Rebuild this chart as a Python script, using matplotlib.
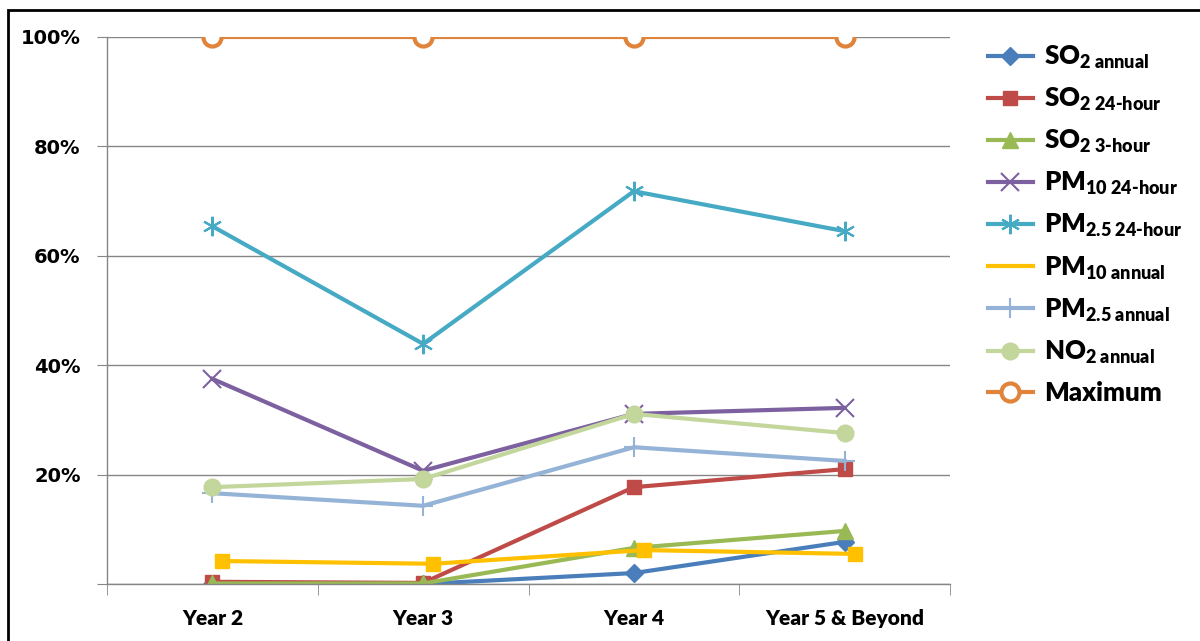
import matplotlib
matplotlib.use("Agg")
import matplotlib.pyplot as plt
import matplotlib.transforms as mtransforms
from matplotlib.patches import Rectangle
from matplotlib.ticker import FuncFormatter

# data (fractions of the limit)
years = ["Year 2", "Year 3", "Year 4", "Year 5 & Beyond"]
so2_annual = [0.000, 0.000, 0.020, 0.077]
so2_24h = [0.004, 0.002, 0.177, 0.210]
so2_3h = [0.001, 0.001, 0.066, 0.097]
pm10_24h = [0.375, 0.207, 0.311, 0.322]
pm25_24h = [0.654, 0.439, 0.718, 0.645]
pm10_annual = [0.042, 0.037, 0.062, 0.055]
pm25_annual = [0.166, 0.143, 0.250, 0.225]
no2_annual = [0.177, 0.192, 0.311, 0.276]
maximum = [1.0, 1.0, 1.0, 1.0]

plt.rcParams["mathtext.fontset"] = "custom"
plt.rcParams["mathtext.rm"] = "Lato:heavy"
plt.rcParams["mathtext.it"] = "Lato:heavy"
plt.rcParams["mathtext.bf"] = "Lato:heavy"
plt.rcParams["mathtext.default"] = "rm"

W, H = 1200, 641
fig = plt.figure(figsize=(W / 100, H / 100), dpi=100)
fig.patches.append(Rectangle((8 / W, -0.1), 1.2, (H - 10) / H + 0.1, transform=fig.transFigure,
                             fill=False, edgecolor="black", linewidth=2))

ax = fig.add_axes([107 / W, 1 - 584 / H, (950 - 107) / W, (584 - 37) / H])
x = list(range(len(years)))

ax.plot(x, so2_annual, color="#4A7EBB", lw=3, marker="D", ms=9, label=r"SO$_{\text{2 annual}}$")
ax.plot(x, so2_24h, color="#BE4B48", lw=3, marker="s", ms=10, label=r"SO$_{\text{2 24-hour}}$")
ax.plot(x, so2_3h, color="#98B954", lw=3, marker="^", ms=12, label=r"SO$_{\text{2 3-hour}}$")
ax.plot(x, pm10_24h, color="#7D60A0", lw=3, marker="x", ms=13, mew=1.5, label=r"PM$_{\text{10 24-hour}}$")
ax.plot(x, pm25_24h, color="#46AAC5", lw=3, marker=(6, 2, 0), ms=14, mew=1.5, label=r"PM$_{\text{2.5 24-hour}}$")
shift = mtransforms.offset_copy(ax.transData, fig=fig, x=10, y=0, units="dots")
ax.plot(x, pm10_annual, color="#FFC000", lw=3, marker="s", ms=10, transform=shift, label=r"PM$_{\text{10 annual}}$")
ax.plot(x, pm25_annual, color="#95B3D7", lw=3, marker="+", ms=15, mew=1.5, label=r"PM$_{\text{2.5 annual}}$")
ax.plot(x, no2_annual, color="#C3D69B", lw=3, marker="o", ms=12, label=r"NO$_{\text{2 annual}}$")
ax.plot(x, maximum, color="#E0843C", lw=3, marker="o", ms=13, mfc="white", mew=3, label="Maximum")

ax.set_xlim(-0.5, len(years) - 0.5)
ax.set_ylim(0, 1.0)
ax.set_yticks([0, 0.2, 0.4, 0.6, 0.8, 1.0])
ax.yaxis.set_major_formatter(FuncFormatter(lambda v, p: "" if v == 0 else f"{v*100:.0f}%"))
ax.set_xticks(x)
ax.set_xticklabels(years)
ax.set_xticks([i - 0.5 for i in range(len(years) + 1)], minor=True)
ax.tick_params(axis="x", which="major", length=0, pad=18)
ax.tick_params(axis="x", which="minor", length=8, color="#868686", direction="out")
ax.tick_params(axis="y", length=7, color="#868686", direction="out", pad=12)
for lab in ax.get_xticklabels():
    lab.set_fontfamily("Lato")
    lab.set_fontweight("heavy")
    lab.set_fontsize(15)
for lab in ax.get_yticklabels():
    lab.set_fontfamily("DejaVu Sans")
    lab.set_fontweight("bold")
    lab.set_fontsize(14)

ax.grid(axis="y", color="#868686", lw=1)
ax.set_axisbelow(True)
for s in ["top", "right"]:
    ax.spines[s].set_visible(False)
for s in ["left", "bottom"]:
    ax.spines[s].set_color("#868686")
    ax.spines[s].set_linewidth(1)

leg = fig.legend(loc="upper left", bbox_to_anchor=(975 / W, 1 - 31 / H), frameon=False,
                 prop={"family": "Lato", "weight": "heavy", "size": 18.5},
                 handlelength=1.75, handletextpad=0.45, labelspacing=0.58, borderpad=0)
leg.get_lines()[5].set_marker("None")

fig.savefig("out.png", dpi=100)
